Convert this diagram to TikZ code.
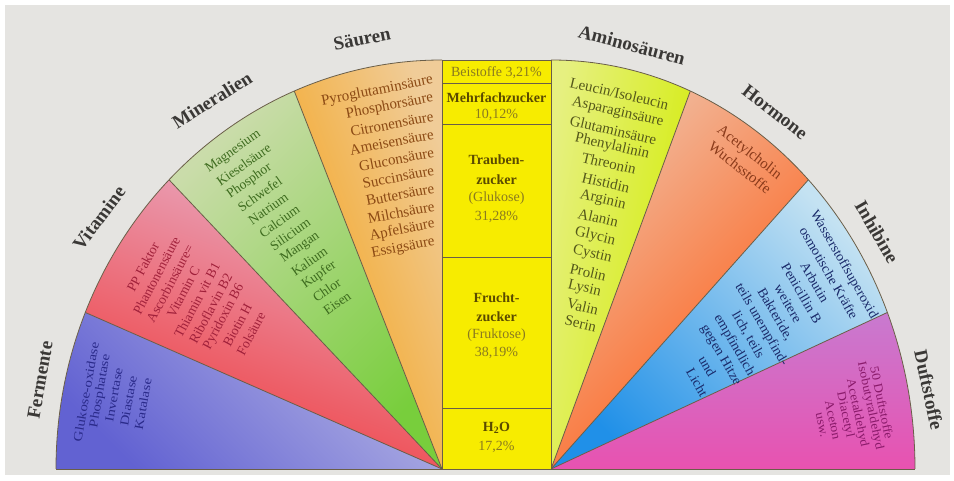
\documentclass[tikz,border=0pt]{standalone}
\usepackage{fontspec}
\setmainfont{Liberation Serif}
\definecolor{bgcol}{HTML}{E5E4E1}
\definecolor{linecol}{HTML}{6A5E48}
\definecolor{labgray}{HTML}{3A3836}
\definecolor{ferL}{HTML}{B4B4E4}\definecolor{ferD}{HTML}{6262D2}\definecolor{ferT}{HTML}{2A2A8A}
\definecolor{vitL}{HTML}{E8AAC2}\definecolor{vitD}{HTML}{F03A3C}\definecolor{vitT}{HTML}{A0203A}
\definecolor{minL}{HTML}{CADCAA}\definecolor{minD}{HTML}{78CE3C}\definecolor{minT}{HTML}{3D6B1E}
\definecolor{saeL}{HTML}{F0CC98}\definecolor{saeD}{HTML}{F5A012}\definecolor{saeT}{HTML}{8C4A14}
\definecolor{amiL}{HTML}{E6F080}\definecolor{amiD}{HTML}{D2EC00}\definecolor{amiT}{HTML}{55581A}
\definecolor{horL}{HTML}{F0BCA0}\definecolor{horD}{HTML}{FF5A12}\definecolor{horT}{HTML}{8A3A1A}
\definecolor{inhL}{HTML}{C4E2F2}\definecolor{inhD}{HTML}{2090E8}\definecolor{inhT}{HTML}{1A2A6A}
\definecolor{dufL}{HTML}{C87AD0}\definecolor{dufD}{HTML}{E852B0}\definecolor{dufT}{HTML}{8A1A6A}
\definecolor{barY}{HTML}{F7EC00}\definecolor{barB}{HTML}{5A4A00}\definecolor{barN}{HTML}{8A7A20}
\begin{document}
\begin{tikzpicture}[x=1pt,y=1pt,
  lab/.style={font=\fontsize{19}{19}\selectfont\bfseries, text=labgray, inner sep=0pt},
  itm/.style={font=\fontsize{15}{15}\selectfont, inner sep=0pt},
  itms/.style={font=\fontsize{13.5}{13.5}\selectfont, inner sep=0pt},
  itmt/.style={font=\fontsize{12.5}{12.5}\selectfont, inner sep=0pt},
  bartxt/.style={font=\fontsize{14}{14}\selectfont, text=barN, inner sep=0pt},
  barbold/.style={font=\fontsize{14}{14}\selectfont\bfseries, text=barB, inner sep=0pt},
  sep/.style={draw=linecol, line width=0.8pt},
]
\useasboundingbox (0,0) rectangle (954,481);
\fill[white] (0,0) rectangle (954,481);
\fill[bgcol] (5,6) rectangle (950,476);
% ---------- sectors (left) ----------
\shade[top color=ferL, bottom color=ferD, shading angle=-45] (442,12) -- +(180:386pt and 409pt) arc[start angle=180, end angle=157.5, x radius=386pt, y radius=409pt] -- cycle;
\shade[top color=vitL, bottom color=vitD, shading angle=-20] (442,12) -- +(157.5:386pt and 409pt) arc[start angle=157.5, end angle=135, x radius=386pt, y radius=409pt] -- cycle;
\shade[top color=minL, bottom color=minD, shading angle=45] (442,12) -- +(135:386pt and 409pt) arc[start angle=135, end angle=112.5, x radius=386pt, y radius=409pt] -- cycle;
\shade[top color=saeL, bottom color=saeD, shading angle=-70] (442,12) -- +(112.5:386pt and 409pt) arc[start angle=112.5, end angle=90, x radius=386pt, y radius=409pt] -- cycle;
% ---------- sectors (right) ----------
\shade[top color=amiL, bottom color=amiD, shading angle=80] (551,12) -- +(90:364pt and 409pt) arc[start angle=90, end angle=67.5, x radius=364pt, y radius=409pt] -- cycle;
\shade[top color=horL, bottom color=horD, shading angle=45] (551,12) -- +(67.5:364pt and 409pt) arc[start angle=67.5, end angle=45, x radius=364pt, y radius=409pt] -- cycle;
\shade[top color=inhL, bottom color=inhD, shading angle=-45] (551,12) -- +(45:364pt and 409pt) arc[start angle=45, end angle=22.5, x radius=364pt, y radius=409pt] -- cycle;
\shade[top color=dufL, bottom color=dufD, shading angle=0] (551,12) -- +(22.5:364pt and 409pt) arc[start angle=22.5, end angle=0, x radius=364pt, y radius=409pt] -- cycle;
% ---------- boundary lines ----------
\foreach \a in {157.5,135,112.5} \draw[sep] (442,12) -- +(\a:386pt and 409pt);
\foreach \a in {67.5,45,22.5} \draw[sep] (551,12) -- +(\a:364pt and 409pt);
\draw[sep] (56,12) arc[start angle=180, end angle=90, x radius=386pt, y radius=409pt];
\draw[sep] (551,421) arc[start angle=90, end angle=0, x radius=364pt, y radius=409pt];
\draw[sep] (56,12) -- (915,12);
% ---------- central bar ----------
\fill[barY] (442,12) rectangle (551,421);
\draw[sep] (442,12) rectangle (551,421);
\foreach \yy in {398,357,224,73} \draw[sep] (442,\yy) -- (551,\yy);
\node[bartxt] (b1) at (496.5,408) {Beistoffe 3,21\%};
\node[barbold] (b2) at (496.5,383) {Mehrfachzucker};
\node[bartxt] (b3) at (496.5,366) {10,12\%};
\node[barbold] (b4) at (496.5,321) {Trauben-};
\node[barbold] (b5) at (496.5,301) {zucker};
\node[bartxt] (b6) at (496.5,283) {(Glukose)};
\node[bartxt] (b7) at (496.5,264) {31,28\%};
\node[barbold] (b8) at (496.5,183) {Frucht-};
\node[barbold] (b9) at (496.5,164) {zucker};
\node[bartxt] (b10) at (496.5,146) {(Fruktose)};
\node[bartxt] (b11) at (496.5,128) {38,19\%};
\node[barbold] (b12) at (496.5,53) {H\textsubscript{2}O};
\node[bartxt] (b13) at (496.5,34) {17,2\%};
% ---------- outer labels ----------
\node[lab, rotate=80] (lfer) at (40,101) {Fermente};
\node[lab, rotate=53] (lvit) at (99,263) {Vitamine};
\node[lab, rotate=32] (lmin) at (212,381) {Mineralien};
\node[lab, rotate=11] (lsae) at (362,442) {Säuren};
\node[lab, rotate=-15] (lami) at (632,436) {Aminosäuren};
\node[lab, rotate=-38] (lhor) at (775,369) {Hormone};
\node[lab, rotate=-60] (linh) at (877,249) {Inhibine};
\node[lab, rotate=-78] (lduf) at (929,91) {Duftstoffe};
% ---------- sector texts ----------
\foreach \x/\y/\t [count=\i] in {86/89/Glukose-oxidase, 100.5/90/Phosphatase, 114/86/Invertase, 128.5/80/Diastase, 143/77/Katalase}
  \node[itmt, text=ferT, rotate=80, xscale=1.2] (fer\i) at (\x,\y) {\t};
\foreach \x/\y/\t [count=\i] in {143/214/PP Faktor, 156.5/205.7/Phantonensäure, 170/197.4/Ascorbinsäure=, 183.5/189.1/Vitamin C, 197/180.8/Thiamin vit B1, 210.5/172.5/Riboflavin B2, 224/164.2/Pyridoxin B6, 237.5/155.9/Biotin H, 251/147.6/Folsäure}
  \node[itms, text=vitT, rotate=62] (vit\i) at (\x,\y) {\t};
\foreach \x/\y/\t [count=\i] in {207/311/Magnesium, 217.7/298.1/Kieselsäure, 228.4/285.2/Phosphor, 239.1/272.3/Schwefel, 249.8/259.4/Natrium, 260.5/246.5/Calcium, 271.2/233.6/Silicium, 281.9/220.7/Mangan, 292.6/207.8/Kalium, 303.3/194.9/Kupfer, 314/182/Chlor, 324.7/169.1/Eisen}
  \node[itms, text=minT, rotate=35, anchor=west] (min\i) at (\x,\y) {\t};
\foreach \t [count=\i from 0] in {Pyroglutaminsäure, Phosphorsäure, Citronensäure, Ameisensäure, Gluconsäure, Succinsäure, Buttersäure, Milchsäure, Apfelsäure, Essigsäure}
  \node[itm, text=saeT, rotate=11, anchor=east] (sae\i) at ({433+0.2*\i},{401-18*\i}) {\t};
\foreach \x/\y/\t [count=\i] in {570/399/Leucin\slash Isoleucin, 572/379/Asparaginsäure, 570/361/Glutaminsäure, 575/343/Phenylalinin, 582/324/Threonin, 582/304/Histidin, 580/286/Arginin, 578/268/Alanin, 575/249/Glycin, 573/231/Cystin, 570/213/Prolin, 568/196/Lysin, 567/178/Valin, 565/161/Serin}
  \node[itm, text=amiT, rotate=-13, anchor=west] (ami\i) at (\x,\y) {\t};
\node[itm, text=horT, rotate=-38] (hor1) at (749,328) {Acetylcholin};
\node[itm, text=horT, rotate=-38] (hor2) at (740,313.5) {Wuchsstoffe};
\foreach \x/\y/\t [count=\i] in {843.7/216.4/Wasserstoffsuperoxid, 829.1/208.0/osmotische Kräfte, 814.9/198.7/Arbutin, 801.8/187.6/Penicillin B, 788.2/177.4/weitere, 775.0/166.4/{Bakteride,}, 761.4/156.2/teils unempfind-, 747.8/146.0/{lich, teils}, 734.1/135.8/empfindlich, 720.5/125.7/gegen Hitze, 707.4/114.6/und, 697.2/98.4/Licht}
  \node[itms, text=inhT, rotate=-60, xscale=1.05] (inh\i) at (\x,\y) {\t};
\foreach \x/\y/\t [count=\i] in {882/78/50 Duftstoffe, 870/75/Isobutyraldehyd, 857/68/Acetaldehyd, 845/66/Diacetyl, 833/61/Aceton, 821/56/usw.}
  \node[itmt, text=dufT, rotate=-78, xscale=1.1] (duf\i) at (\x,\y) {\t};
\end{tikzpicture}
\end{document}
